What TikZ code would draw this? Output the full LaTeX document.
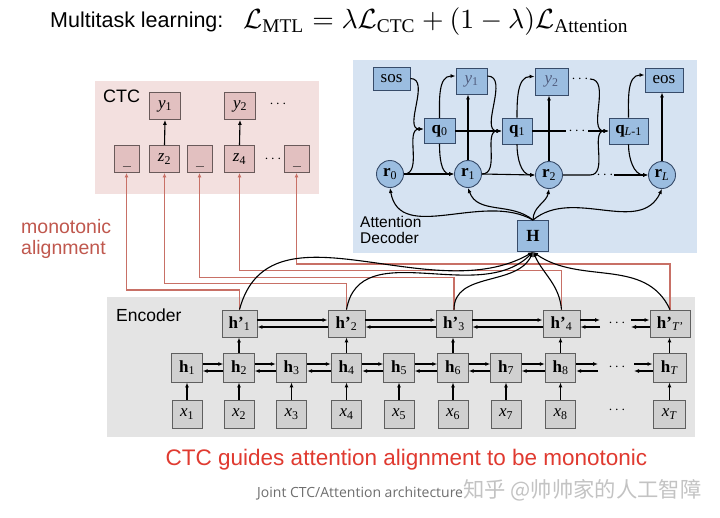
\documentclass[tikz,border=0pt]{standalone}
\usepackage{fontspec}
\setmainfont{Liberation Serif}
\setsansfont{Liberation Sans}
\newfontfamily\cjkfont{Noto Sans CJK SC}
\newfontfamily\capfont{Open Sans}
\usetikzlibrary{arrows.meta,calc}
\definecolor{ctcbg}{RGB}{243,224,223}
\definecolor{ctcfill}{RGB}{226,192,192}
\definecolor{ctcdraw}{RGB}{105,90,90}
\definecolor{decbg}{RGB}{214,227,242}
\definecolor{decfill}{RGB}{155,189,224}
\definecolor{decdraw}{RGB}{55,75,105}
\definecolor{dectext}{RGB}{80,92,125}
\definecolor{encbg}{RGB}{228,228,228}
\definecolor{encfill}{RGB}{208,208,208}
\definecolor{encdraw}{RGB}{95,95,95}
\definecolor{redline}{RGB}{200,112,102}
\definecolor{redtext}{RGB}{224,58,48}
\definecolor{monotext}{RGB}{192,88,78}
\definecolor{captext}{RGB}{110,110,110}
\definecolor{wmtext}{RGB}{195,195,195}
\begin{document}
\begin{tikzpicture}[x=1pt,y=1pt,
  nodefont/.style={font=\fontsize{17}{17}\selectfont},
  box/.style={draw, inner sep=0pt, line width=0.9pt, nodefont},
  cbox/.style={box, draw=ctcdraw, fill=ctcfill, minimum height=27pt},
  dbox/.style={box, draw=decdraw, fill=decfill, minimum height=25pt},
  dcirc/.style={circle, draw=decdraw, fill=decfill, minimum size=27pt, inner sep=0pt, line width=0.9pt, nodefont},
  ebox/.style={box, draw=encdraw, fill=encfill},
  blank/.style={cbox, minimum width=25pt, path picture={\draw[line width=1.6pt] ($(path picture bounding box.south)+(-4pt,6pt)$) -- ++(8pt,0);}},
  dots/.style={inner sep=0pt, font=\fontsize{14}{14}\selectfont},
  arr/.style={draw=black, line width=1.1pt, -{Latex[length=5pt,width=4pt]}},
  ln/.style={draw=black, line width=1.1pt},
  redarr/.style={draw=redline, line width=1.2pt, -{Latex[length=4.5pt,width=4pt]}},
  sflabel/.style={anchor=base west, inner sep=0pt, font=\sffamily\fontsize{#1}{#1}\selectfont}
]
\useasboundingbox[fill=white] (0,0) rectangle (720,-517);

% backgrounds
\fill[ctcbg] (95,-81) rectangle (319,-194);
\fill[decbg] (353,-60) rectangle (697,-253);
\fill[encbg] (107,-297) rectangle (695,-437);

% title
\node[sflabel=21.5] (title) at (50,-27) {Multitask learning:};
\node[anchor=base west, inner sep=0pt] (formula) at (243,-28) {\scalebox{2.77}{$\mathcal{L}_{\mathrm{MTL}} = \lambda\mathcal{L}_{\mathrm{CTC}} + (1-\lambda)\mathcal{L}_{\mathrm{Attention}}$}};

% labels
\node[sflabel=18] (ctclab) at (103,-102) {CTC};
\node[sflabel=15.5] (attlab) at (360,-227) {Attention};
\node[sflabel=15.5] (declab) at (360,-243) {Decoder};
\node[sflabel=17.5] (enclab) at (116,-321) {Encoder};
\node[sflabel=19.5, text=monotext] (mono1) at (21,-233) {monotonic};
\node[sflabel=19.5, text=monotext] (mono2) at (21,-254) {alignment};
\node[anchor=base, inner sep=0pt, font=\sffamily\fontsize{22.5}{22.5}\selectfont, text=redtext] (guide) at (406.5,-465) {CTC guides attention alignment to be monotonic};
\node[anchor=base west, inner sep=0pt, font=\capfont\fontsize{14}{14}\selectfont, text=captext] (cap) at (257,-497) {Joint CTC/Attention architecture};
\node[anchor=base west, inner sep=0pt, font=\cjkfont\fontsize{21.3}{21.3}\selectfont, text=wmtext] (wm) at (cap.base east) {知乎 @帅帅家的人工智障};

% CTC nodes
\node[cbox, minimum width=31pt] (cy1) at (165,-106) {\textit{y}\textsubscript{1}};
\node[cbox, minimum width=31pt] (cy2) at (240,-106) {\textit{y}\textsubscript{2}};
\node[dots] (cdots1) at (278,-104) {$\cdots$};
\node[blank] (b1) at (126.5,-159) {};
\node[cbox, minimum width=30pt] (z2) at (164.5,-159) {\textit{z}\textsubscript{2}};
\node[blank] (b3) at (199.5,-159) {};
\node[cbox, minimum width=30pt] (z4) at (239.5,-159) {\textit{z}\textsubscript{4}};
\node[dots] (cdots2) at (273,-159) {$\cdots$};
\node[blank] (b5) at (296.5,-159) {};
\draw[arr] (z2.north) -- (cy1.south);
\draw[arr] (z4.north) -- (cy2.south);

% Decoder nodes
\node[dbox, minimum width=37pt, minimum height=23pt] (sos) at (391.5,-78.5) {sos};
\node[dbox, minimum width=31pt, minimum height=26pt, text=dectext] (dy1) at (471.5,-81) {\textit{y}\textsubscript{1}};
\node[dbox, minimum width=33pt, minimum height=27pt, text=dectext] (dy2) at (551.5,-81.5) {\textit{y}\textsubscript{2}};
\node[dots] (ddots1) at (580,-79) {$\cdots$};
\node[dbox, minimum width=38pt, minimum height=24pt] (eos) at (664,-80) {eos};
\node[dbox, minimum width=31pt] (q0) at (439.5,-131) {\textbf{q}\textsubscript{0}};
\node[dbox, minimum width=30pt, minimum height=26pt] (q1) at (517,-131) {\textbf{q}\textsubscript{1}};
\node[dots] (qdots) at (577,-131) {$\cdots$};
\node[dbox, minimum width=39pt, minimum height=26pt] (qL) at (628.5,-131) {\textbf{q}\textsubscript{\textit{L}-1}};
\node[dcirc] (r0) at (390,-174) {\textbf{r}\textsubscript{0}};
\node[dcirc] (r1) at (468,-174) {\textbf{r}\textsubscript{1}};
\node[dcirc] (r2) at (549,-175) {\textbf{r}\textsubscript{2}};
\node[dots] (rdots) at (605,-175) {$\cdots$};
\node[dcirc] (rL) at (662,-175) {\textbf{r}\textsubscript{\textit{L}}};
\node[dbox, minimum width=31pt, minimum height=31pt] (H) at (533,-236) {\textbf{H}};
\coordinate (q1r) at (566,-131);
\coordinate (qLl) at (588,-131);
\coordinate (r2r) at (590,-175);
\coordinate (rLl) at (614,-175);
\coordinate (dy2r) at (590,-79);

% Decoder edges
\draw[arr] (sos.east) to[out=0,in=180] ([yshift=2pt]q0.west);
\draw[arr] (r0.east) to[out=0,in=180] ([yshift=2pt]q0.west);
\draw[arr] (r0.east) -- (r1.west);
\draw[arr] (q0.north) to[out=90,in=180] ([yshift=5pt]dy1.west);
\draw[arr] (q0.south) to[out=-90,in=180] (r1.west);
\draw[arr] (q0.east) -- (q1.west);
\draw[arr] (r1.north) -- (r1.north |- dy1.south);
\draw[arr] ([yshift=5pt]dy1.east) to[out=0,in=180] (q1.west);
\draw[arr] (r1.east) to[out=0,in=180] (q1.west);
\draw[arr] (r1.east) -- (r2.west);
\draw[arr] (q1.north) to[out=90,in=180] ([yshift=5pt]dy2.west);
\draw[arr] (q1.south) to[out=-90,in=180] (r2.west);
\draw[arr] (r2.north) -- (r2.north |- dy2.south);
\draw[ln] (q1.east) -- (q1r);
\draw[arr] (qLl) -- (qL.west);
\draw[arr] (dy2r) to[out=0,in=180] (qL.west);
\draw[arr] (r2.east) -- (r2r) to[out=0,in=180] (qL.west);
\draw[arr] (rLl) -- (rL.west);
\draw[arr] (qL.north) to[out=90,in=180] ([yshift=5pt]eos.west);
\draw[arr] (qL.south) to[out=-90,in=180] (rL.west);
\draw[arr] (rL.north) -- (rL.north |- eos.south);
\draw[arr] (H.north) to[out=150,in=-80] (r0.south);
\draw[arr] (H.north) to[out=140,in=-70] (r1.south);
\draw[arr] (H.north) to[out=90,in=-100] (r2.south);
\draw[arr] (H.north) to[out=40,in=-115] (rL.south);

% Encoder nodes
\node[ebox, minimum width=35pt, minimum height=27pt] (hp1) at (239.5,-323.5) {\textbf{h'}\textsubscript{1}};
\node[ebox, minimum width=37pt, minimum height=27pt] (hp2) at (346.5,-323.5) {\textbf{h'}\textsubscript{2}};
\node[ebox, minimum width=36pt, minimum height=27pt] (hp3) at (454,-323.5) {\textbf{h'}\textsubscript{3}};
\node[ebox, minimum width=37pt, minimum height=27pt] (hp4) at (561.5,-323.5) {\textbf{h'}\textsubscript{4}};
\node[dots] (hpdots) at (617,-323.5) {$\cdots$};
\node[ebox, minimum width=40pt, minimum height=27pt] (hpT) at (670,-323.5) {\textbf{h'}\textsubscript{\textit{T'}}};
\foreach \n/\xx in {1/187,2/239,3/291.5,4/346.5,5/399,6/453,7/506,8/560.5} {
  \node[ebox, minimum width=30.5pt, minimum height=29pt] (h\n) at (\xx,-367.5) {\textbf{h}\textsubscript{\n}};
  \node[ebox, minimum width=30pt, minimum height=28pt] (x\n) at (\xx,-414) {\textit{x}\textsubscript{\n}};
  \draw[arr] (x\n.north) -- (h\n.south);
}
\node[dots] (hdots) at (617,-367.5) {$\cdots$};
\node[dots] (xdots) at (617,-410) {$\cdots$};
\node[ebox, minimum width=33pt, minimum height=29pt] (hT) at (669.5,-367.5) {\textbf{h}\textsubscript{\textit{T}}};
\node[ebox, minimum width=32pt, minimum height=28pt] (xT) at (669.5,-414) {\textit{x}\textsubscript{\textit{T}}};
\draw[arr] (xT.north) -- (hT.south);
\coordinate (h8r) at (598,-367.5);
\coordinate (hTl) at (634,-367.5);
\coordinate (hp4r) at (600,-323.5);
\coordinate (hpTl) at (631,-323.5);

% encoder horizontal pairs
\foreach \a/\b in {h1/h2,h2/h3,h3/h4,h4/h5,h5/h6,h6/h7,h7/h8,h8/h8r,hTl/hT} {
  \draw[arr] ([yshift=3.5pt]\a.east) -- ([yshift=3.5pt]\b.west);
  \draw[arr] ([yshift=-3.5pt]\b.west) -- ([yshift=-3.5pt]\a.east);
}
\foreach \a/\b in {hp1/hp2,hp2/hp3,hp3/hp4,hp4/hp4r,hpTl/hpT} {
  \draw[arr] ([yshift=3.5pt]\a.east) -- ([yshift=3.5pt]\b.west);
  \draw[arr] ([yshift=-3.5pt]\b.west) -- ([yshift=-3.5pt]\a.east);
}
% encoder vertical
\draw[arr] (h2.north) -- (h2.north |- hp1.south);
\draw[arr] (h4.north) -- (h4.north |- hp2.south);
\draw[arr] (h6.north) -- (h6.north |- hp3.south);
\draw[arr] (h8.north) -- (h8.north |- hp4.south);
\draw[arr] (hT.north) -- (hT.north |- hpT.south);

% red monotonic lines
\draw[redarr] (hp1.north) -- (hp1.north |- 0,-290) -| (b1.south);
\draw[redarr] (hp2.north) -- (hp2.north |- 0,-283.5) -| (z2.south);
\draw[redarr] (hp3.north) -- (hp3.north |- 0,-277.5) -| (b3.south);
\draw[redarr] (hp4.north) -- (hp4.north |- 0,-270.5) -| (z4.south);
\draw[redarr] (hpT.north) -- (hpT.north |- 0,-264) -| (b5.south);

% encoder to H
\draw[arr] (hp1.north) to[out=75,in=-150] (H.south);
\draw[arr] (hp2.north) to[out=80,in=-135] (H.south);
\draw[arr] (hp3.north) to[out=90,in=-115] (H.south);
\draw[arr] (hp4.north) to[out=95,in=-65] (H.south);
\draw[arr] (hpT.north) to[out=115,in=-35] (H.south);
\end{tikzpicture}
\end{document}
